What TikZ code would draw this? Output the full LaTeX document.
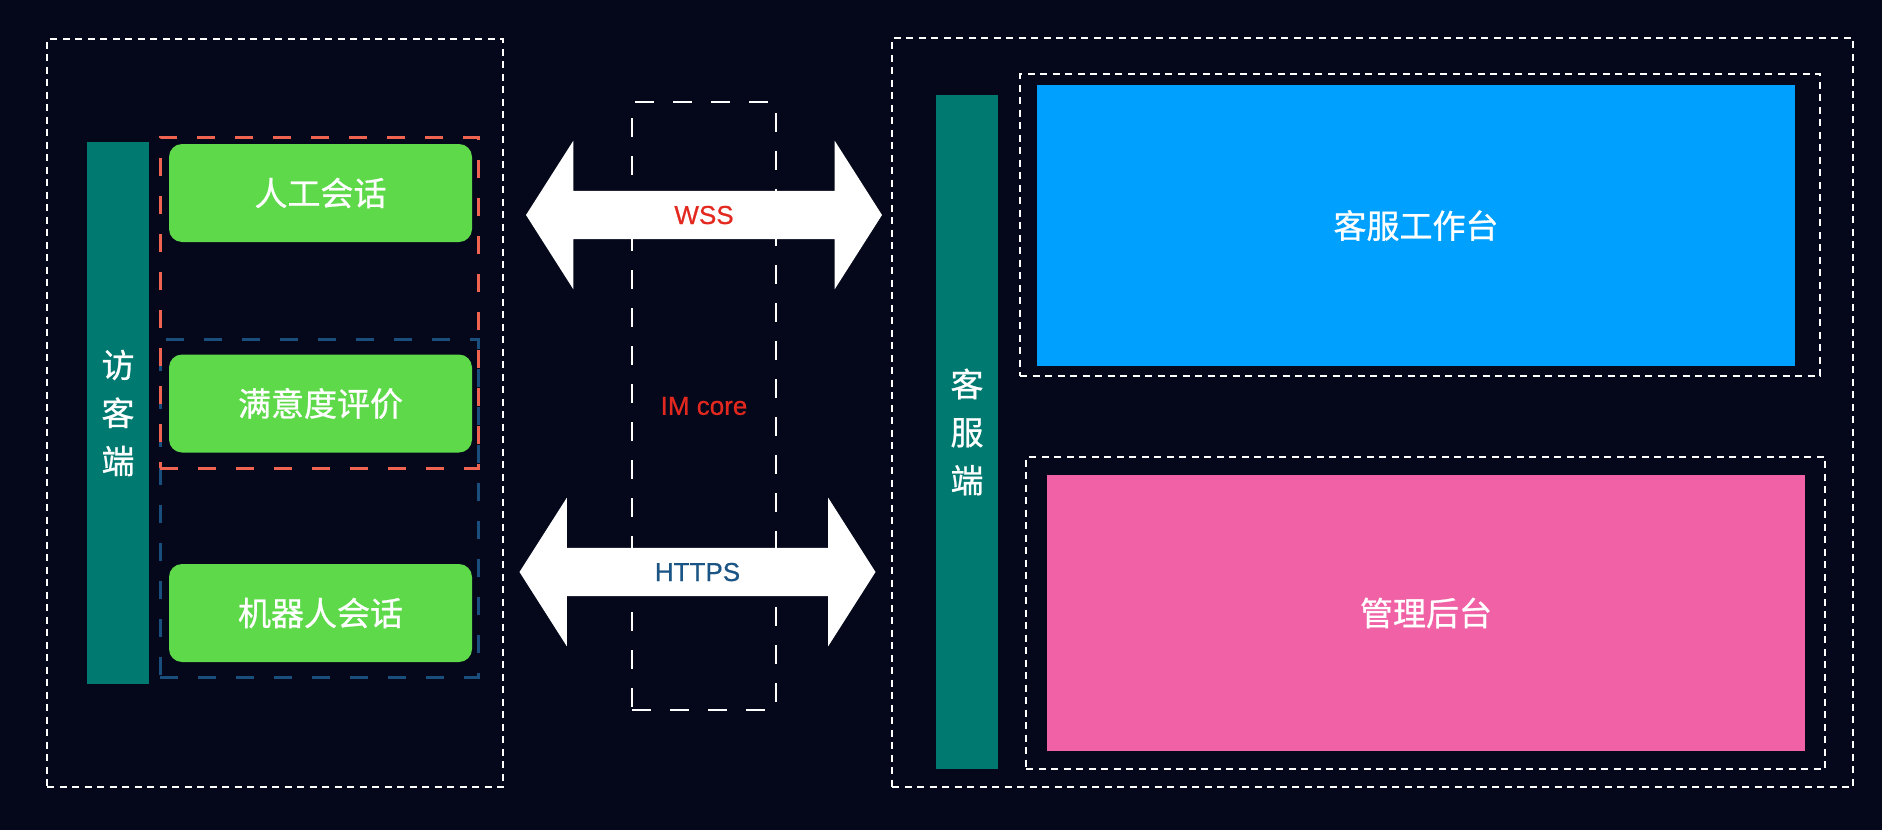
\documentclass[tikz,border=0pt]{standalone}
\usepackage{fontspec}
\setmainfont{Liberation Sans}[FakeBold=0.6]
\newfontfamily\cjk{Noto Sans CJK SC}[FakeBold=0.8]
\usepackage{tikz}
\usetikzlibrary{shapes.arrows}
\usetikzlibrary{positioning}

\definecolor{bgnavy}{HTML}{04081A}
\definecolor{barteal}{HTML}{007A70}
\definecolor{boxgreen}{HTML}{5ED94A}
\definecolor{deskblue}{HTML}{00A1FE}
\definecolor{adminpink}{HTML}{F061A6}
\definecolor{dashred}{HTML}{EE6450}
\definecolor{dashblue}{HTML}{1A4E7C}
\definecolor{textred}{HTML}{E3281F}
\definecolor{textblue}{HTML}{1B5585}

\tikzset{
	frame/.style={draw=white, line width=1.2pt, dash pattern=on 7pt off 5.5pt},
	group/.style={line width=3pt, dash pattern=on 18pt off 20pt},
	sidebar/.style={fill=barteal, text=white, font=\cjk\fontsize{33}{48}\selectfont, align=center},
	session/.style={fill=boxgreen, rounded corners=13pt, text=white, font=\cjk\fontsize{33}{40}\selectfont,
		minimum width=303pt, minimum height=98pt},
	panel/.style={text=white, font=\cjk\fontsize{33}{40}\selectfont},
	link/.style={double arrow, fill=white, minimum height=356pt, inner ysep=15pt,
		text height=18pt, text depth=0pt, double arrow head extend=50pt,
		double arrow tip angle=115, font=\fontsize{26}{30}\selectfont}
}

\begin{document}
\begin{tikzpicture}[x=1pt, y=-1pt]
	\fill[bgnavy] (0,0) rectangle (1882,830);
	\useasboundingbox (0,0) rectangle (1882,830);

	% visitor side
	\begin{scope}[every node/.style={rectangle, inner sep=0pt}]
		\node[frame, minimum width=456pt, minimum height=748pt] (visitor) at (275,413) {};
		\node[sidebar, minimum width=62pt, minimum height=542pt] (vbar) at (118,413) {访\\客\\端};
		\node[group, draw=dashblue, minimum width=318pt, minimum height=338pt] (botgroup) at (319,508) {};
		\node[group, draw=dashred, minimum width=318pt, minimum height=331pt] (humangroup) at (319,302.5) {};
		\node[session] (human) at (320.5,193) {人工会话};
		\node[session] (rating) at (320.5,403.5) {满意度评价};
		\node[session] (bot) at (320.5,613) {机器人会话};
	\end{scope}

	% IM core
	\node[draw=white, line width=2.8pt, dash pattern=on 19pt off 19pt, minimum width=144pt,
		minimum height=608pt, text=textred, font=\fontsize{26}{30}\selectfont] (core) at (704,406) {IM core};

	\node[link, text=textred] (wss) at (704,215) {WSS};
	\node[link, text=textblue] (https) at (697.5,572) {HTTPS};

	% service side
	\begin{scope}[every node/.style={rectangle, inner sep=0pt}]
		\node[frame, minimum width=961pt, minimum height=749pt] (service) at (1372.5,412.5) {};
		\node[sidebar, minimum width=62pt, minimum height=674pt] (sbar) at (967,432) {客\\服\\端};
		\node[frame, minimum width=800pt, minimum height=302pt] (deskframe) at (1420,225) {};
		\node[panel, fill=deskblue, minimum width=758pt, minimum height=281pt] (desk) at (1416,225.5) {客服工作台};
		\node[frame, minimum width=799pt, minimum height=312pt] (adminframe) at (1425.5,613) {};
		\node[panel, fill=adminpink, minimum width=758pt, minimum height=276pt] (admin) at (1426,613) {管理后台};
	\end{scope}
\end{tikzpicture}
\end{document}
